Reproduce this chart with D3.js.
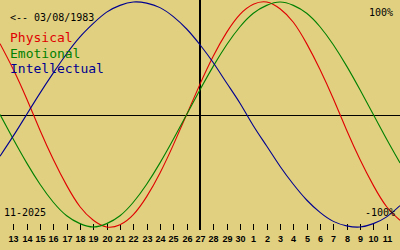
<!DOCTYPE html>
<html>
<head>
<meta charset="utf-8">
<script src="https://cdn.jsdelivr.net/npm/d3@7"></script>
<style>
    body { margin: 0; background: #e0d080; }
    svg { display: block; }
</style>
</head>
<body>
<svg id="chart" width="400" height="250"></svg>
<script>
// Biorhythm chart, 12 Nov .. 12 Dec 2025, one value per day
const dayLabels = [13, 14, 15, 16, 17, 18, 19, 20, 21, 22, 23, 24, 25, 26, 27, 28, 29, 30,
    1, 2, 3, 4, 5, 6, 7, 8, 9, 10, 11];

const physical = [0.63, 0.40, 0.14, -0.14, -0.40, -0.63, -0.82, -0.94, -1.00, -0.98,
    -0.89, -0.73, -0.52, -0.27, 0.00, 0.27, 0.52, 0.73, 0.89, 0.98,
    1.00, 0.94, 0.82, 0.63, 0.40, 0.14, -0.14, -0.40, -0.63, -0.82, -0.94];

const emotional = [0.00, -0.22, -0.43, -0.62, -0.78, -0.90, -0.97, -1.00, -0.97, -0.90,
    -0.78, -0.62, -0.43, -0.22, 0.00, 0.22, 0.43, 0.62, 0.78, 0.90,
    0.97, 1.00, 0.97, 0.90, 0.78, 0.62, 0.43, 0.22, 0.00, -0.22, -0.43];

const intellectual = [-0.37, -0.19, 0.00, 0.19, 0.37, 0.54, 0.69, 0.81, 0.91, 0.97,
    1.00, 0.99, 0.95, 0.87, 0.76, 0.62, 0.46, 0.28, 0.10, -0.10,
    -0.28, -0.46, -0.62, -0.76, -0.87, -0.95, -0.99, -1.00, -0.97, -0.91, -0.81];

const legend = [
    { label: 'Physical', color: '#e00000' },
    { label: 'Emotional', color: '#008000' },
    { label: 'Intellectual', color: '#000090' }
];

const width = 400;
const height = 250;
const svg = d3.select('#chart');

const x = d3.scaleLinear().domain([0, 30]).range([0, width]);
const y = d3.scaleLinear().domain([-1, 1]).range([227, 2]);

// Axes lines
const zeroY = Math.round(y(0)) + 0.5;
svg.append('line')
    .attr('x1', 0).attr('x2', width)
    .attr('y1', zeroY).attr('y2', zeroY)
    .attr('stroke', '#000').attr('stroke-width', 1);

svg.append('line')
    .attr('x1', x(15)).attr('x2', x(15))
    .attr('y1', 0).attr('y2', 230)
    .attr('stroke', '#000').attr('stroke-width', 2);

// Day ticks along the bottom
const tickG = svg.append('g');
dayLabels.forEach((d, i) => {
    const tx = Math.round(x(i + 1)) + 0.5;
    tickG.append('line')
        .attr('x1', tx).attr('x2', tx)
        .attr('y1', 224).attr('y2', 230)
        .attr('stroke', '#000').attr('stroke-width', 1);
    tickG.append('text')
        .attr('x', tx)
        .attr('y', 242)
        .attr('text-anchor', 'middle')
        .style('font-family', 'Liberation Sans, Arial, sans-serif')
        .style('font-size', '9px')
        .style('font-weight', 'bold')
        .style('fill', '#000')
        .text(d);
});

// Curves
const line = d3.line()
    .x((d, i) => x(i))
    .y(d => y(d))
    .curve(d3.curveNatural);

[[physical, legend[0].color], [emotional, legend[1].color], [intellectual, legend[2].color]]
    .forEach(([values, color]) => {
        svg.append('path')
            .datum(values)
            .attr('d', line)
            .attr('fill', 'none')
            .attr('stroke', color)
            .attr('stroke-width', 1.1);
    });

// Texts
const mono = 'DejaVu Sans Mono, monospace';

svg.append('text')
    .attr('x', 10).attr('y', 20.5)
    .style('font-family', mono).style('font-size', '10px').style('fill', '#000')
    .text('<-- 03/08/1983');

legend.forEach((d, i) => {
    svg.append('text')
        .attr('x', 10).attr('y', 42 + i * 15.5)
        .style('font-family', mono).style('font-size', '13px').style('fill', d.color)
        .text(d.label);
});

svg.append('text')
    .attr('x', 393).attr('y', 16)
    .attr('text-anchor', 'end')
    .style('font-family', mono).style('font-size', '10px').style('fill', '#000')
    .text('100%');

svg.append('text')
    .attr('x', 395).attr('y', 216)
    .attr('text-anchor', 'end')
    .style('font-family', mono).style('font-size', '10px').style('fill', '#000')
    .text('-100%');

svg.append('text')
    .attr('x', 4).attr('y', 216)
    .style('font-family', mono).style('font-size', '10px').style('fill', '#000')
    .text('11-2025');
</script>
</body>
</html>
